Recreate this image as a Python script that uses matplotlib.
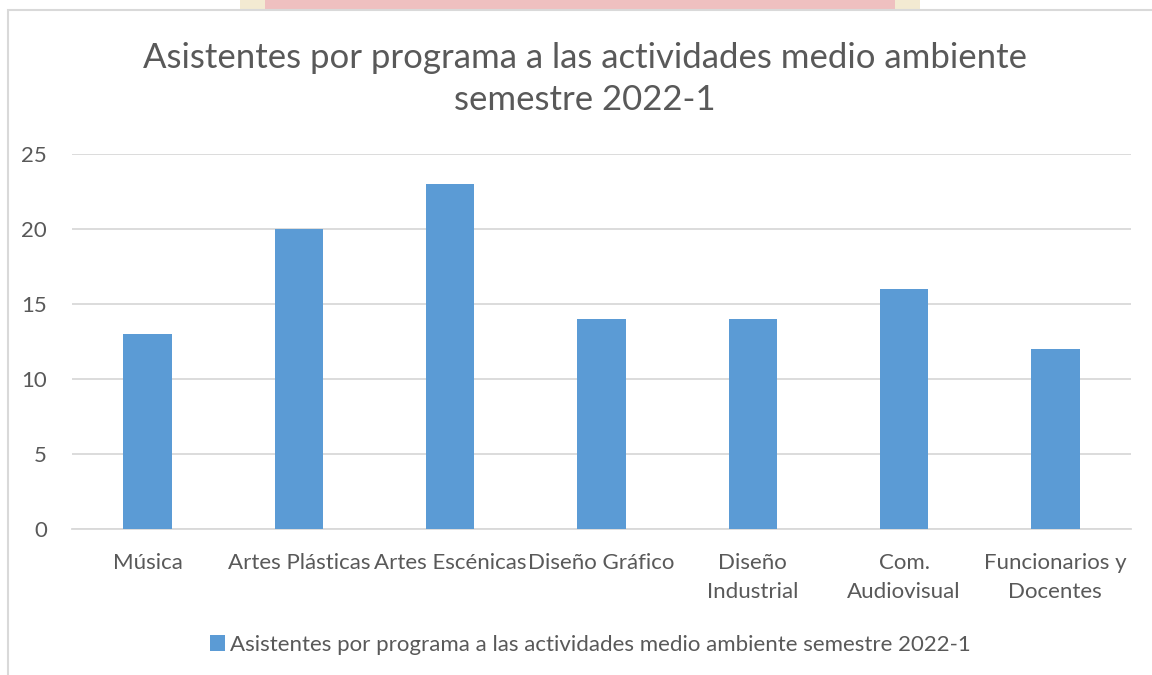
import matplotlib.pyplot as plt
import matplotlib.patches as mpatches

# data
programas = ['Música', 'Artes Plásticas', 'Artes Escénicas', 'Diseño Gráfico',
             'Diseño\nIndustrial', 'Com.\nAudiovisual', 'Funcionarios y\nDocentes']
asistentes = [13, 20, 23, 14, 14, 16, 12]
serie = 'Asistentes por programa a las actividades medio ambiente semestre 2022-1'
titulo = 'Asistentes por programa a las actividades medio ambiente\nsemestre 2022-1'
yticks = [0, 5, 10, 15, 20, 25]

plt.rcParams['font.family'] = ['Lato', 'DejaVu Sans']
txt = '#595959'
W, H = 1152, 675

fig = plt.figure(figsize=(11.52, 6.75), dpi=100)
fig.patch.set_facecolor('white')

# watermark strip peeking in at the top
fig.patches.append(mpatches.Rectangle((240/W, 1-12/H), 680/W, 12/H, transform=fig.transFigure,
                                      facecolor='#f3ead2', edgecolor='none', zorder=0))
fig.patches.append(mpatches.Rectangle((265/W, 1-12/H), 630/W, 12/H, transform=fig.transFigure,
                                      facecolor='#efc0c0', edgecolor='none', zorder=0))
# chart frame
fig.patches.append(mpatches.Rectangle((8/W, -0.05), 1.2, 1-10/H+0.05, transform=fig.transFigure,
                                      facecolor='white', edgecolor='#d9d9d9', lw=1.5, zorder=1))

ax = fig.add_axes([72/W, 1-529/H, (1131-72)/W, (529-154)/H])
ax.set_zorder(2)
ax.patch.set_alpha(0)
x = range(len(programas))
ax.bar(x, asistentes, width=0.32, color='#5b9bd5', zorder=3, label=serie)
ax.set_xlim(-0.5, len(programas)-0.5)
ax.set_ylim(0, 25)
ax.set_yticks(yticks)
ax.yaxis.grid(True, color='#d9d9d9', lw=1.3)
ax.set_axisbelow(True)
for s in ['top', 'right', 'left']:
    ax.spines[s].set_visible(False)
ax.spines['bottom'].set_color('#d9d9d9')
ax.spines['bottom'].set_linewidth(1.3)
ax.tick_params(length=0, colors=txt, labelsize=16)
ax.tick_params(axis='y', pad=18)
ax.tick_params(axis='x', pad=17)
ax.set_xticks(list(x))
ax.set_xticklabels(programas, linespacing=1.6)

fig.text(585/W, 1-79/H, titulo, ha='center', va='center', fontsize=25, color=txt, linespacing=1.35)
fig.legend(loc='center', bbox_to_anchor=(590/W, 1-645/H), frameon=False, fontsize=16,
           labelcolor=txt, handlelength=0.7, handleheight=0.7, handletextpad=0.2)

fig.savefig('out.png', dpi=100)
